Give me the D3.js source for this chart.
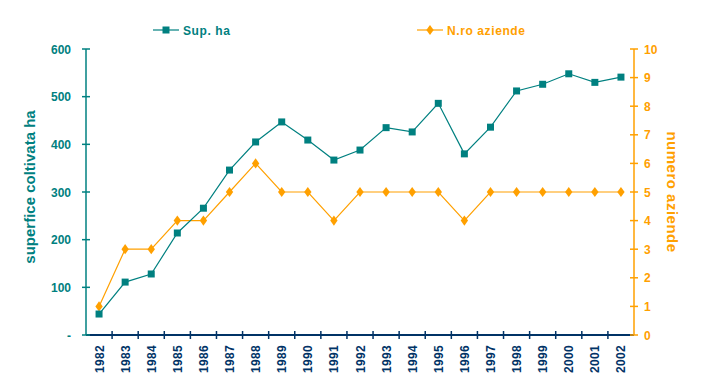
<!DOCTYPE html>
<html><head><meta charset="utf-8">
<script src="https://cdn.jsdelivr.net/npm/d3@7"></script>
<style>body{margin:0;background:#fff}svg{display:block}text{font-family:"Liberation Sans",Arial,sans-serif}</style>
</head><body><svg id="c" width="705" height="390"></svg>
<script>
const years = ["1982","1983","1984","1985","1986","1987","1988","1989","1990","1991","1992","1993","1994","1995","1996","1997","1998","1999","2000","2001","2002"];
const supHa = [44,111,128,214,266,346,405,447,409,367,388,435,426,486,380,436,512,526,548,530,541];
const aziende = [1,3,3,4,4,5,6,5,5,4,5,5,5,5,4,5,5,5,5,5,5];
const leftTicks = [0,100,200,300,400,500,600];
const rightTicks = [0,1,2,3,4,5,6,7,8,9,10];
const teal = "#008080", orange = "#FFA000", navy = "#003366";

const svg = d3.select("#c");
const x0 = 86, x1 = 634, yTop = 49, yBot = 335;
const x = d3.scaleBand().domain(years).range([x0, x1]);
const yL = d3.scaleLinear().domain([0,600]).range([yBot, yTop]);
const yR = d3.scaleLinear().domain([0,10]).range([yBot, yTop]);
const cx = d => x(d) + x.bandwidth()/2;

// x axis
const gx = svg.append("g");
gx.append("line").attr("x1",x0).attr("x2",x1).attr("y1",yBot).attr("y2",yBot).attr("stroke",navy).attr("stroke-width",2);
years.forEach((y,i)=>{
  if (i===0) return;
  const xx = x(y);
  gx.append("line").attr("x1",xx).attr("x2",xx).attr("y1",yBot-4).attr("y2",yBot+4).attr("stroke",navy).attr("stroke-width",1.5);
});
years.forEach(y=>{
  gx.append("text").attr("transform",`translate(${cx(y)+4.5},345) rotate(-90)`)
    .attr("text-anchor","end").attr("font-size",12).attr("font-weight","bold").attr("letter-spacing",0.3).attr("fill",navy).text(y);
});

// left axis
const gl = svg.append("g");
gl.append("line").attr("x1",x0).attr("x2",x0).attr("y1",yTop).attr("y2",yBot).attr("stroke",teal).attr("stroke-width",1.5);
leftTicks.forEach(t=>{
  gl.append("line").attr("x1",x0-4).attr("x2",x0+4).attr("y1",yL(t)).attr("y2",yL(t)).attr("stroke",teal).attr("stroke-width",1.5);
  gl.append("text").attr("x",71).attr("y",yL(t)+4.5).attr("text-anchor","end").attr("font-size",12).attr("font-weight","bold").attr("fill",teal).text(t===0?"-":t);
});
gl.append("text").attr("transform","translate(35,187) rotate(-90)").attr("text-anchor","middle").attr("font-size",15).attr("font-weight","bold").attr("fill",teal).text("superfice coltivata ha");

// right axis
const gr = svg.append("g");
gr.append("line").attr("x1",x1).attr("x2",x1).attr("y1",yTop).attr("y2",yBot).attr("stroke",orange).attr("stroke-width",1.5);
rightTicks.forEach(t=>{
  gr.append("line").attr("x1",x1-4).attr("x2",x1+4).attr("y1",yR(t)).attr("y2",yR(t)).attr("stroke",orange).attr("stroke-width",1.5);
  gr.append("text").attr("x",644).attr("y",yR(t)+4.5).attr("text-anchor","start").attr("font-size",12).attr("font-weight","bold").attr("fill",orange).text(t);
});
gr.append("text").attr("transform","translate(667,192) rotate(90)").attr("text-anchor","middle").attr("font-size",15).attr("font-weight","bold").attr("letter-spacing",0.5).attr("fill",orange).text("numero aziende");

// lines
svg.append("path").datum(aziende).attr("fill","none").attr("stroke",orange).attr("stroke-width",1.2)
  .attr("d", d3.line().x((d,i)=>cx(years[i])).y(d=>yR(d)));
svg.append("path").datum(supHa).attr("fill","none").attr("stroke",teal).attr("stroke-width",1.2)
  .attr("d", d3.line().x((d,i)=>cx(years[i])).y(d=>yL(d)));

const diamond = d3.symbol().type(d3.symbolDiamond).size(30);
const square = d3.symbol().type(d3.symbolSquare).size(49);
svg.append("g").selectAll("path").data(aziende).join("path")
  .attr("transform",(d,i)=>`translate(${cx(years[i])},${yR(d)}) scale(1.25,1)`).attr("d",diamond).attr("fill",orange);
svg.append("g").selectAll("path").data(supHa).join("path")
  .attr("transform",(d,i)=>`translate(${cx(years[i])},${yL(d)})`).attr("d",square).attr("fill",teal);

// legend
const lg = svg.append("g");
lg.append("line").attr("x1",153).attr("x2",179).attr("y1",30).attr("y2",30).attr("stroke",teal).attr("stroke-width",1.2);
lg.append("path").attr("transform","translate(166,30)").attr("d",square).attr("fill",teal);
lg.append("text").attr("x",183).attr("y",34.5).attr("font-size",12).attr("font-weight","bold").attr("letter-spacing",0.6).attr("fill",teal).text("Sup. ha");
lg.append("line").attr("x1",417).attr("x2",443).attr("y1",30).attr("y2",30).attr("stroke",orange).attr("stroke-width",1.2);
lg.append("path").attr("transform","translate(430,30) scale(1.25,1)").attr("d",diamond).attr("fill",orange);
lg.append("text").attr("x",447).attr("y",34.5).attr("font-size",12).attr("font-weight","bold").attr("letter-spacing",0.6).attr("fill",orange).text("N.ro aziende");
</script></body></html>
